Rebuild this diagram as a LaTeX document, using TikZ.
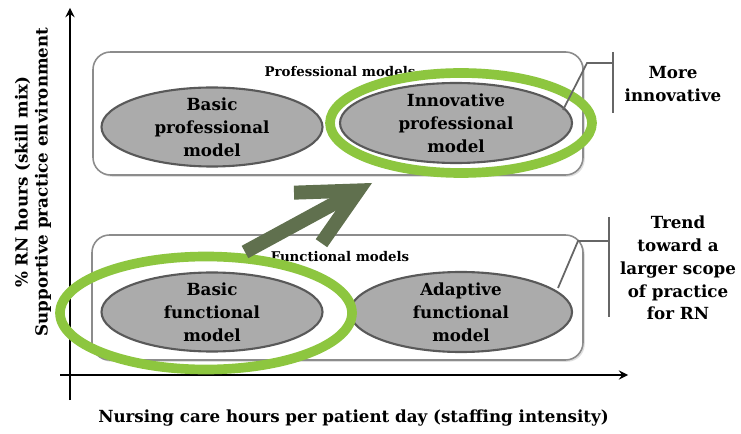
\documentclass[tikz,border=0pt]{standalone}
\usepackage{fontspec}
\setmainfont{DejaVu Serif}
\usepackage{xcolor}
\usepackage{tikz}
\usetikzlibrary{shapes.geometric, arrows, arrows.meta, positioning, calc, shadows}
\definecolor{ringgreen}{RGB}{141,198,63}
\definecolor{trendgreen}{RGB}{96,112,78}
\tikzstyle{axis} = [line width=1.3pt,->,>=stealth]
\tikzstyle{group} = [draw=black!45, line width=0.9pt, rounded corners=0.35cm, fill=white, drop shadow={opacity=0.25, shadow xshift=1pt, shadow yshift=-1pt}]
\tikzstyle{model} = [ellipse, draw=black!65, line width=1.2pt, fill=black!33, align=center, inner xsep=0pt, inner ysep=-0.25cm, font=\bfseries\fontsize{9.5}{13}\selectfont]
\tikzstyle{ring} = [ellipse, draw=ringgreen, line width=5.5pt]
\tikzstyle{bracket} = [draw=black!60, line width=1pt]
\tikzstyle{note} = [align=center, font=\bfseries\fontsize{9.5}{13}\selectfont]
\tikzstyle{grouplabel} = [font=\bfseries\fontsize{7.6}{9}\selectfont]

\begin{document}
\begin{tikzpicture}
    \useasboundingbox (0,0) rectangle (14.82,8.66);

    % Axes
    \coordinate (ytop) at (1.40,8.50);
    \coordinate (ybot) at (1.40,0.66);
    \coordinate (xleft) at (1.20,1.16);
    \coordinate (xright) at (12.56,1.16);
    \draw[axis] (ybot) -- (ytop);
    \draw[axis] (xleft) -- (xright);
    \node[note, rotate=90, font=\bfseries\fontsize{9.5}{11.5}\selectfont] (ylab) at (0.66,5.02) {\% RN hours (skill mix)\\Supportive practice environment};
    \node[note] (xlab) at (7.07,0.30) {Nursing care hours per patient day (staffing intensity)};

    % Professional models
    \node[group, minimum width=9.80cm, minimum height=2.46cm] (prof) at (6.76,6.39) {};
    \node[grouplabel] (proflab) at (6.80,7.22) {Professional models};
    \node[model, minimum width=4.42cm, minimum height=1.58cm] (bpm) at (4.24,6.12) {Basic\\professional\\model};
    \node[model, minimum width=4.64cm, minimum height=1.60cm] (ipm) at (9.12,6.20) {Innovative\\professional\\model};

    % Functional models
    \node[group, minimum width=9.82cm, minimum height=2.50cm] (func) at (6.75,2.71) {};
    \node[grouplabel] (funclab) at (6.80,3.52) {Functional models};
    \node[model, minimum width=4.42cm, minimum height=1.58cm] (bfm) at (4.24,2.42) {Basic\\functional\\model};
    \node[model, minimum width=4.44cm, minimum height=1.60cm] (afm) at (9.22,2.42) {Adaptive\\functional\\model};

    % Highlight rings
    \node[ring, minimum width=5.24cm, minimum height=2.00cm] (ipmring) at (9.22,6.20) {};
    \node[ring, minimum width=5.84cm, minimum height=2.26cm] (bfmring) at (4.12,2.40) {};

    % Trend arrow
    \coordinate (trendtail) at (4.90,3.62);
    \coordinate (trendtip) at (7.44,5.00);
    \draw[trendgreen, line width=0.28cm, -{Straight Barb[length=1.15cm, width=1.15cm]}] (trendtail) -- (trendtip);

    % Brackets
    \coordinate (innotop) at (12.26,7.62);
    \coordinate (innobot) at (12.26,6.40);
    \coordinate (innoknee) at (11.74,7.40);
    \coordinate (innofoot) at (11.26,6.46);
    \draw[bracket] (innotop) -- (innobot);
    \draw[bracket] (innofoot) -- (innoknee) -- (innoknee -| innotop);
    \node[note] (inno) at (13.46,6.98) {More\\innovative};

    \coordinate (scopetop) at (12.18,4.32);
    \coordinate (scopebot) at (12.18,2.32);
    \coordinate (scopeknee) at (11.56,3.84);
    \coordinate (scopefoot) at (11.16,2.90);
    \draw[bracket] (scopetop) -- (scopebot);
    \draw[bracket] (scopefoot) -- (scopeknee) -- (scopeknee -| scopetop);
    \node[note] (scope) at (13.56,3.30) {Trend\\toward a\\larger scope\\of practice\\for RN};
\end{tikzpicture}
\end{document}
